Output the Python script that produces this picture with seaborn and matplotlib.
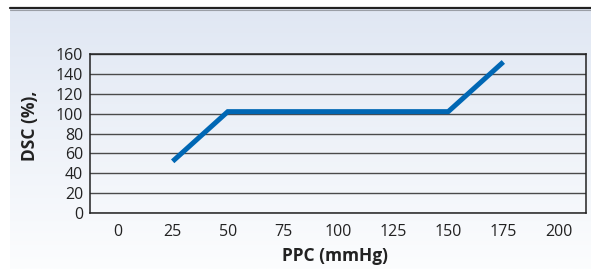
import numpy as np
import pandas as pd
import matplotlib
matplotlib.use("Agg")
import matplotlib.pyplot as plt
import seaborn as sns
from matplotlib.lines import Line2D

# Data (categorical x axis, like an Excel line chart)
ppc_labels = ["0", "25", "50", "75", "100", "125", "150", "175", "200"]
dsc_values = [np.nan, 52, 102, 102, 102, 102, 102, 152, np.nan]
y_ticks = [0, 20, 40, 60, 80, 100, 120, 140, 160]

df = pd.DataFrame({"pos": range(len(ppc_labels)), "ppc": ppc_labels, "dsc": dsc_values})

sns.set_style("white")
plt.rcParams["font.family"] = ["Open Sans", "DejaVu Sans"]

W, H = 591, 269
fig = plt.figure(figsize=(W / 100, H / 100), dpi=100)

# gradient panel background
bg = fig.add_axes([10 / W, 0, 1 - 10 / W, 1 - 9 / H], zorder=0)
top = np.array([224, 231, 243]) / 255
bot = np.array([252, 253, 254]) / 255
t = np.linspace(0, 1, 256)[:, None]
grad = top * (1 - t) + bot * t
bg.imshow(grad[:, None, :].repeat(2, axis=1), aspect="auto", extent=[0, 1, 0, 1])
bg.set_axis_off()

# frame line at top
fig.add_artist(Line2D([10 / W, 1], [1 - 8 / H, 1 - 8 / H], color="#222222", lw=1.6))
fig.add_artist(Line2D([10 / W, 1], [1 - 9.6 / H, 1 - 9.6 / H], color="#9a9ea6", lw=0.8))

ax = fig.add_axes([90 / W, 1 - 213 / H, (586 - 90) / W, (213 - 54) / H], zorder=1)
ax.patch.set_alpha(0)

sns.lineplot(data=df, x="pos", y="dsc", ax=ax, color="#0067b4", lw=3.6,
             solid_joinstyle="miter", solid_capstyle="butt")

ax.set_xlim(-0.5, len(ppc_labels) - 0.5)
ax.set_ylim(0, 160)
ax.set_yticks(y_ticks)
ax.set_xticks(range(len(ppc_labels)))
ax.set_xticklabels(ppc_labels)
ax.set_xticks(np.arange(-0.5, len(ppc_labels)), minor=True)
ax.tick_params(axis="x", which="major", length=0, pad=8, labelsize=11.5, colors="#222222")
ax.tick_params(axis="x", which="minor", length=4, width=0.9, color="#333333", direction="out")
ax.tick_params(axis="y", length=0, pad=5, labelsize=11.5, colors="#222222")

ax.grid(axis="y", color="#4a4a4a", lw=1.0)
ax.set_axisbelow(True)
for s in ax.spines.values():
    s.set_visible(True)
    s.set_color("#222222")
    s.set_linewidth(1.1)

ax.set_xlabel("")
ax.set_ylabel("")
fig.text(335 / W, 1 - 256 / H, "PPC (mmHg)", ha="center", va="center",
         fontsize=12.5, fontweight="bold", color="#222222")
fig.text(30 / W, 1 - 126 / H, "DSC (%),", ha="center", va="center", rotation=90,
         fontsize=12.5, fontweight="bold", color="#222222")

fig.savefig("out.png", dpi=100)
